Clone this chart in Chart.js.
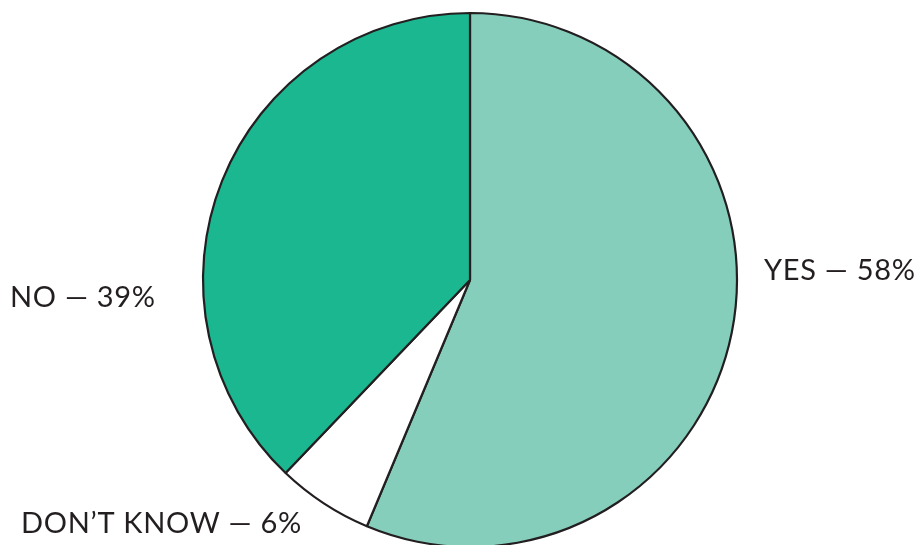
<!DOCTYPE html>
<html>
<head>
<meta charset="utf-8">
<script src="https://cdn.jsdelivr.net/npm/chart.js@4.4.1/dist/chart.umd.min.js"></script>
<style>
  html, body { margin: 0; padding: 0; background: #ffffff; overflow: hidden; }
  #wrap { position: relative; width: 920px; height: 560px; }
</style>
</head>
<body>
<div id="wrap"><canvas id="c" width="920" height="560"></canvas></div>
<script>
// Survey answers
const categories = ["YES", "DON\u2019T KNOW", "NO"];
const shares = [58, 6, 39];
const sliceColors = ["#86cebc", "#ffffff", "#1bb791"];

// Label anchors (left x, baseline y) for each answer
const labelAnchors = [
  { x: 764, y: 280 },
  { x: 21, y: 533 },
  { x: 10, y: 307 }
];

const labelPlugin = {
  id: "answerLabels",
  afterDraw(chart) {
    const ctx = chart.ctx;
    ctx.save();
    ctx.fillStyle = "#231f20";
    ctx.font = "29px Lato, 'Open Sans', sans-serif";
    if ("letterSpacing" in ctx) ctx.letterSpacing = "0.7px";
    ctx.textBaseline = "alphabetic";
    ctx.textAlign = "left";
    categories.forEach((name, i) => {
      const a = labelAnchors[i];
      ctx.fillText(name + " \u2014 " + shares[i] + "%", a.x, a.y);
    });
    ctx.restore();
  }
};

new Chart(document.getElementById("c"), {
  type: "pie",
  data: {
    labels: categories,
    datasets: [{
      data: shares,
      backgroundColor: sliceColors,
      borderColor: "#231f20",
      borderWidth: 2.2,
      radius: 267
    }]
  },
  options: {
    responsive: false,
    animation: false,
    layout: { padding: { left: 20, right: 0, top: 0, bottom: 0 } },
    plugins: {
      legend: { display: false },
      tooltip: { enabled: false },
      title: { display: false }
    }
  },
  plugins: [labelPlugin]
});
</script>
</body>
</html>
